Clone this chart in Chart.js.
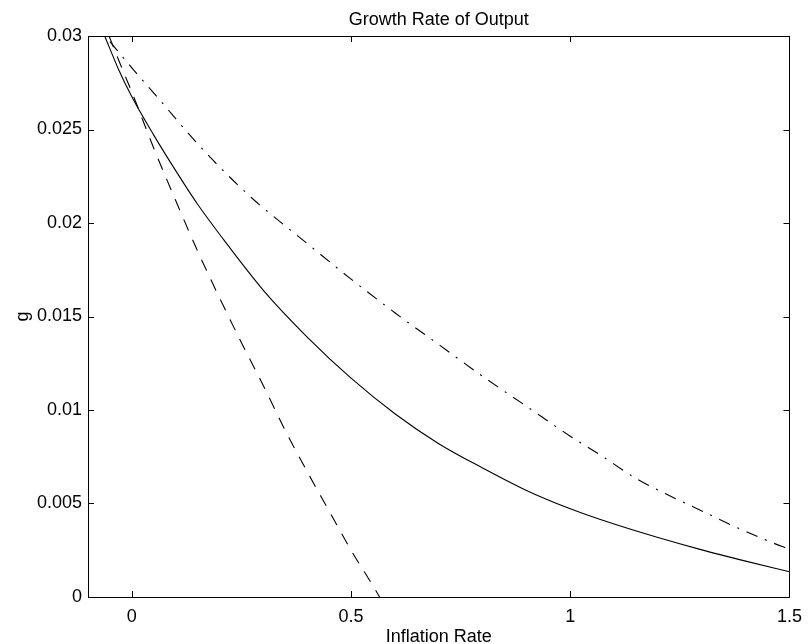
<!DOCTYPE html>
<html>
<head>
<meta charset="utf-8">
<script src="https://cdn.jsdelivr.net/npm/chart.js@4.4.1/dist/chart.umd.min.js"></script>
<style>
html,body{margin:0;padding:0;background:#fff;}
#c{display:block;}
</style>
</head>
<body>
<canvas id="c" width="811" height="644"></canvas>
<script>
const titleText = 'Growth Rate of Output';
const xTitle = 'Inflation Rate';
const yTitle = 'g';
const xTicks = [0, 0.5, 1, 1.5];
const xTickLabels = ['0', '0.5', '1', '1.5'];
const yTicks = [0, 0.005, 0.01, 0.015, 0.02, 0.025, 0.03];
const yTickLabels = ['0', '0.005', '0.01', '0.015', '0.02', '0.025', '0.03'];

const solidX = [-0.062, -0.03, 0, 0.05, 0.1, 0.15, 0.2, 0.3, 0.4, 0.5, 0.6, 0.7, 0.8, 0.9, 1.0, 1.1, 1.2, 1.3, 1.4, 1.5];
const solidY = [0.0300, 0.0282, 0.02675, 0.0247, 0.0228, 0.0210, 0.0194, 0.0164, 0.0139, 0.0117, 0.0098, 0.0082, 0.0069, 0.0057, 0.00472, 0.0039, 0.00318, 0.00252, 0.00192, 0.00135];

const dashedX = [-0.052, -0.023, 0, 0.05, 0.1, 0.15, 0.2, 0.25, 0.3, 0.35, 0.4, 0.45, 0.5, 0.55, 0.565];
const dashedY = [0.0300, 0.0283, 0.0270, 0.0240, 0.0212, 0.0185, 0.0160, 0.0136, 0.0113, 0.0089, 0.0067, 0.0046, 0.0025, 0.0006, 0];

const dashDotX = [-0.05, 0, 0.063, 0.138, 0.2, 0.273, 0.3, 0.4, 0.5, 0.6, 0.7, 0.8, 0.9, 1.0, 1.068, 1.153, 1.237, 1.305, 1.372, 1.456, 1.5];
const dashDotY = [0.0297, 0.0283, 0.0266, 0.02455, 0.0230, 0.02135, 0.0208, 0.0189, 0.0170, 0.0152, 0.0135, 0.0118, 0.0102, 0.0086, 0.0076, 0.0063, 0.0053, 0.00455, 0.0038, 0.00295, 0.00255];

const FONT = '"Liberation Sans", Arial, Helvetica, sans-serif';
const FSIZE = 18;

function pts(xs, ys) { return xs.map((x, i) => ({ x: x, y: ys[i] })); }

const framePlugin = {
  id: 'frame',
  afterDraw(chart) {
    const ctx = chart.ctx;
    const a = chart.chartArea;
    const xs = chart.scales.x, ys = chart.scales.y;
    ctx.save();
    ctx.strokeStyle = '#000';
    ctx.lineWidth = 1;
    ctx.beginPath();
    ctx.rect(Math.round(a.left) + 0.5, Math.round(a.top) + 0.5, Math.round(a.right - a.left), Math.round(a.bottom - a.top));
    ctx.stroke();
    const tl = 6;
    ctx.beginPath();
    xTicks.forEach(v => {
      const px = Math.round(xs.getPixelForValue(v)) + 0.5;
      ctx.moveTo(px, a.bottom); ctx.lineTo(px, a.bottom - tl);
      ctx.moveTo(px, a.top); ctx.lineTo(px, a.top + tl);
    });
    yTicks.forEach(v => {
      const py = Math.round(ys.getPixelForValue(v)) + 0.5;
      ctx.moveTo(a.left, py); ctx.lineTo(a.left + tl, py);
      ctx.moveTo(a.right, py); ctx.lineTo(a.right - tl, py);
    });
    ctx.stroke();
    ctx.fillStyle = '#000';
    ctx.font = FSIZE + 'px ' + FONT;
    ctx.textAlign = 'center';
    ctx.textBaseline = 'alphabetic';
    const cx = (a.left + a.right) / 2;
    ctx.fillText(titleText, cx, 25);
    ctx.fillText(xTitle, cx, 642);
    ctx.translate(28, (a.top + a.bottom) / 2);
    ctx.rotate(-Math.PI / 2);
    ctx.fillText(yTitle, 0, 0);
    ctx.restore();
  }
};

const common = { borderColor: '#000', borderWidth: 1.1, pointRadius: 0, fill: false, cubicInterpolationMode: 'monotone' };

new Chart(document.getElementById('c'), {
  type: 'line',
  data: {
    datasets: [
      Object.assign({ label: 'solid', data: pts(solidX, solidY) }, common),
      Object.assign({ label: 'dashed', data: pts(dashedX, dashedY), borderDash: [12, 10] }, common),
      Object.assign({ label: 'dashdot', data: pts(dashDotX, dashDotY), borderDash: [12, 8, 2, 8] }, common)
    ]
  },
  options: {
    responsive: false,
    animation: false,
    devicePixelRatio: 1,
    layout: { padding: { left: 0, right: 15, top: 36, bottom: 0 } },
    plugins: { legend: { display: false }, title: { display: false }, tooltip: { enabled: false } },
    scales: {
      x: {
        type: 'linear', min: -0.1, max: 1.5,
        grid: { display: false, drawTicks: false },
        border: { display: false },
        afterBuildTicks: s => { s.ticks = xTicks.map(v => ({ value: v })); },
        afterFit: s => { s.height = 47; },
        ticks: {
          autoSkip: false, maxRotation: 0, padding: 9, color: '#000',
          font: { family: FONT, size: FSIZE },
          callback: (v, i) => xTickLabels[i]
        }
      },
      y: {
        type: 'linear', min: 0, max: 0.03,
        grid: { display: false, drawTicks: false },
        border: { display: false },
        afterBuildTicks: s => { s.ticks = yTicks.map(v => ({ value: v })); },
        afterFit: s => { s.width = 88; },
        ticks: {
          autoSkip: false, padding: 6, color: '#000',
          font: { family: FONT, size: FSIZE },
          callback: (v, i) => yTickLabels[i]
        }
      }
    }
  },
  plugins: [framePlugin]
});
</script>
</body>
</html>
